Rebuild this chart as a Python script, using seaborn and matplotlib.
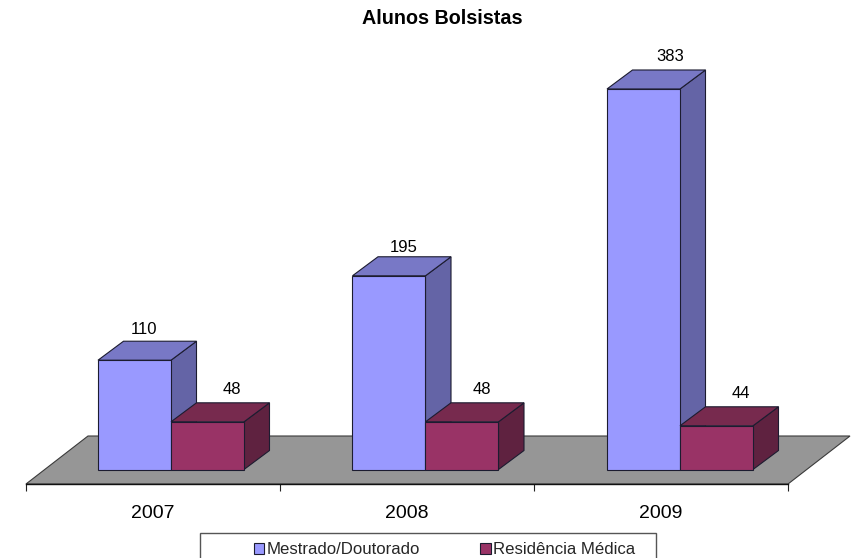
import matplotlib
matplotlib.use("Agg")
import matplotlib.pyplot as plt
from matplotlib.patches import Polygon, Rectangle
import seaborn as sns
import pandas as pd

years = ["2007", "2008", "2009"]
series_names = ["Mestrado/Doutorado", "Residência Médica"]
mestrado = [110, 195, 383]
residencia = [48, 48, 44]

W, H = 861, 558
sns.set_style("white")
plt.rcParams['font.family'] = ['Liberation Sans', 'DejaVu Sans']

front_colors = ["#9999FF", "#993366"]
top_colors = ["#7878C6", "#772A4E"]
side_colors = ["#6464A6", "#5F2240"]
edge_color = "#1c1c30"

# pixel layout of the plot
px_left, px_right, px_bottom = 26, 788, 484
px_per_cat = 254.5
px_per_unit = 0.9935
px_zero = 469.5
bar_px = 73

df = pd.DataFrame({
    "year": years * 2,
    "value": mestrado + residencia,
    "serie": [series_names[0]] * 3 + [series_names[1]] * 3,
})

fig = plt.figure(figsize=(W / 100, H / 100), dpi=100)
ax = fig.add_axes([px_left / W, 1 - px_bottom / H, (px_right - px_left) / W, px_bottom / H])

sns.barplot(data=df, x="year", y="value", hue="serie", hue_order=series_names,
            palette=front_colors, saturation=1, width=2 * bar_px / px_per_cat, gap=0,
            edgecolor=edge_color, linewidth=0.8, legend=False, ax=ax)

x0 = -(171 - px_left) / px_per_cat
x1 = x0 + (px_right - px_left) / px_per_cat
ax.set_xlim(x0, x1)
ax.set_ylim(-(px_bottom - px_zero) / px_per_unit, px_zero / px_per_unit)

# 3d depth of bars and floor, in data units
dx = 25.5 / px_per_cat
dy = 19 / px_per_unit
floor_dx = 62 / px_per_cat
floor_dy = 48 / px_per_unit

ybot = ax.get_ylim()[0]
floor = Polygon([(x0, ybot), (x1, ybot), (x1 + floor_dx, ybot + floor_dy), (x0 + floor_dx, ybot + floor_dy)],
                closed=True, facecolor="#969696", edgecolor="#3a3a3a", linewidth=0.8,
                zorder=0.5, clip_on=False)
ax.add_patch(floor)

# data labels are not placed the same way on every bar (pixels)
label_shift = [[10, 15, 27], [24.5, 20, 24]]
label_rise = [[12, 9, 13], [13, 13, 13]]

for s, container in enumerate(ax.containers):
    for i, bar in enumerate(container):
        x, w, h = bar.get_x(), bar.get_width(), bar.get_height()
        z = 2 + s
        bar.set_zorder(z + 0.2)
        side = Polygon([(x + w, 0), (x + w + dx, dy), (x + w + dx, h + dy), (x + w, h)], closed=True,
                       facecolor=side_colors[s], edgecolor=edge_color, linewidth=0.8, zorder=z, clip_on=False)
        top = Polygon([(x, h), (x + dx, h + dy), (x + w + dx, h + dy), (x + w, h)], closed=True,
                      facecolor=top_colors[s], edgecolor=edge_color, linewidth=0.8, zorder=z + 0.1, clip_on=False)
        ax.add_patch(side)
        ax.add_patch(top)
        ax.text(x + w / 2 + label_shift[s][i] / px_per_cat, h + dy + label_rise[s][i] / px_per_unit, str(int(h)),
                ha="center", va="center", fontsize=12, color="black", zorder=6)

# axis: ticks at the category edges, labels on the front plane
sns.despine(ax=ax, left=True, top=True, right=True)
ax.patch.set_alpha(0)
ax.yaxis.set_visible(False)
ax.set_xlabel("")
ax.set_xticks([x0 + k * (x1 - x0) / len(years) for k in range(len(years) + 1)])
ax.set_xticklabels([])
ax.set_xticks([x0 + (k + 0.5) * (x1 - x0) / len(years) for k in range(len(years))], minor=True)
ax.set_xticklabels(years, minor=True, fontsize=14, color="black")
ax.tick_params(axis="x", which="major", bottom=True, length=5, width=0.8, color="#222222")
ax.tick_params(axis="x", which="minor", bottom=False, length=0, pad=15)
ax.spines["bottom"].set_color("#111111")
ax.spines["bottom"].set_linewidth(1.0)

fig.text(442 / W, 1 - 19 / H, "Alunos Bolsistas", ha="center", va="center",
         fontsize=14.2, fontweight="bold", color="black")

# legend box runs off the bottom of the picture
fig.add_artist(Rectangle((200 / W, -0.02), 456 / W, 1 - 533 / H + 0.02, transform=fig.transFigure,
                         facecolor="white", edgecolor="#555555", linewidth=1.0, zorder=-1))
handles = [Rectangle((0, 0), 1, 1, facecolor=c, edgecolor=edge_color, linewidth=0.8) for c in front_colors]
leg = ax.legend(handles, series_names, loc="center left", ncol=2, frameon=False, fontsize=12.1,
                bbox_to_anchor=(254 / W, 1 - 550 / H), bbox_transform=fig.transFigure,
                borderaxespad=0, borderpad=0, handlelength=0.62, handleheight=0.62,
                handletextpad=0.12, columnspacing=3.6)
leg.set_zorder(10)

fig.savefig("out.png", dpi=100, facecolor="white")
